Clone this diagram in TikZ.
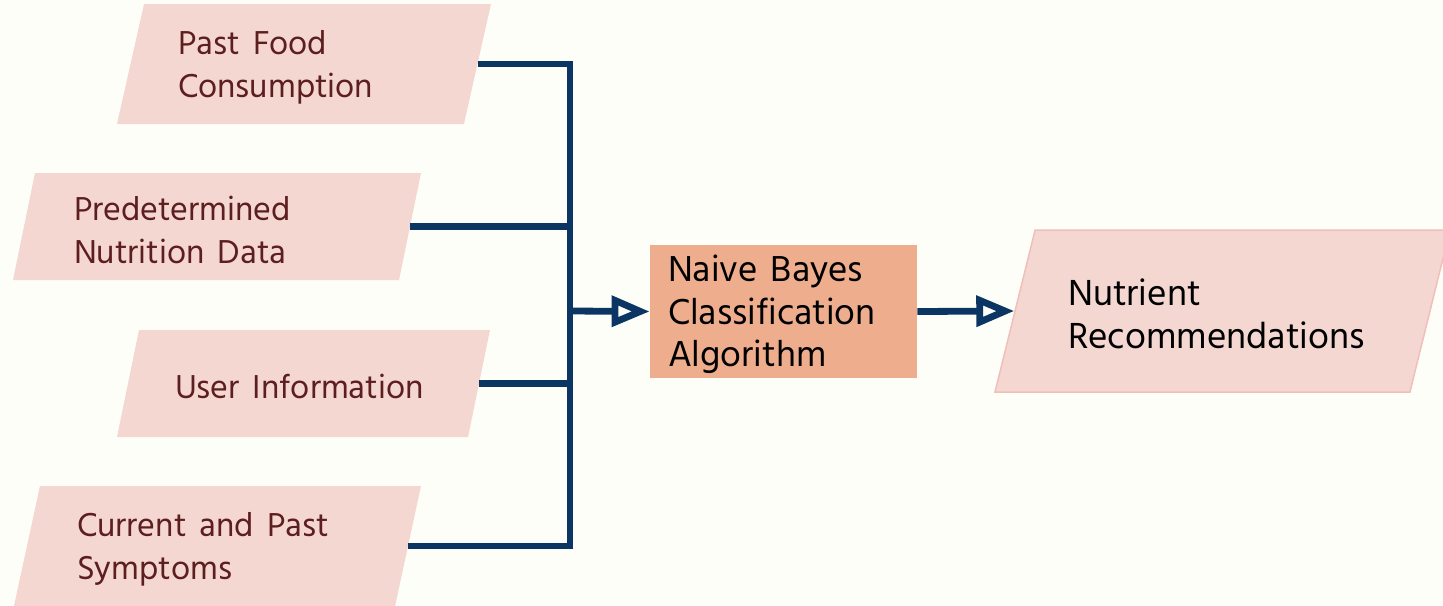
\documentclass[tikz,border=0pt]{standalone}
\usepackage{fontspec}
\setmainfont{Hind Siliguri}
\usetikzlibrary{shapes.geometric,arrows.meta}
\definecolor{bg}{HTML}{FEFEF8}
\definecolor{pinkfill}{HTML}{F5D7D2}
\definecolor{pinkline}{HTML}{F0BFBA}
\definecolor{maroon}{HTML}{5C1E1E}
\definecolor{navy}{HTML}{0B3663}
\definecolor{salmon}{HTML}{EEAE8E}
\newcommand\iotxt[3]{\parbox[c][#2][c]{#1}{\raggedright\spaceskip=6.6pt plus 1pt minus 1pt\vspace*{3pt}#3}}
\begin{document}
\begin{tikzpicture}[x=0.5pt,y=-0.5pt,
  io/.style={trapezium, trapezium stretches body, fill=pinkfill, draw=none,
    inner xsep=0pt, inner ysep=5pt, text=maroon, font=\fontsize{17}{21.5}\selectfont},
  conn/.style={draw=navy, line width=3.4pt, line join=miter},
  arr/.style={conn, -{Triangle[open, length=19pt, width=15pt]}}]
\useasboundingbox[fill=bg] (0,0) rectangle (1443,605);
\node[io, trapezium left angle=77.3, trapezium right angle=102.7,
  minimum width=187pt] (b1) at (304,64)
  {\iotxt{126pt}{50pt}{Past Food\\Consumption}};
\node[io, trapezium left angle=78.4, trapezium right angle=101.6,
  minimum width=204pt] (b2) at (217,226.5)
  {\iotxt{143pt}{43.5pt}{Predetermined\\Nutrition Data}};
\node[io, trapezium left angle=78.4, trapezium right angle=101.6,
  minimum width=186.5pt] (b3) at (303.5,383.5)
  {\iotxt{128.5pt}{43.5pt}{User Information}};
\node[io, trapezium left angle=77.8, trapezium right angle=102.2,
  minimum width=203.5pt] (b4) at (217.5,546)
  {\iotxt{140.5pt}{50pt}{Current and Past\\Symptoms}};
\node[rectangle, fill=salmon, inner sep=0pt, minimum width=133.5pt, minimum height=66.5pt,
  font=\fontsize{18.5}{21.25}\selectfont] (nb) at (783.5,311.5)
  {\iotxt{115.5pt}{62pt}{Naive Bayes\\Classification\\Algorithm}};
\node[io, trapezium left angle=76.1, trapezium right angle=103.9, text=black,
  draw=pinkline, line width=0.75pt, minimum width=227.5pt,
  font=\fontsize{18.6}{21.75}\selectfont] (nr) at (1222.5,311)
  {\iotxt{154.5pt}{71pt}{Nutrient\\Recommendations}};
\coordinate (bus) at (570,311);
\draw[conn] (b1.east) -| (bus) |- (b4.east);
\draw[conn] (b2.east) -- (b2.east -| bus);
\draw[conn] (b3.east) -- (b3.east -| bus);
\draw[arr] (bus) -- (nb.west);
\draw[arr] (nb.east) -- (nr.west);
\end{tikzpicture}
\end{document}
